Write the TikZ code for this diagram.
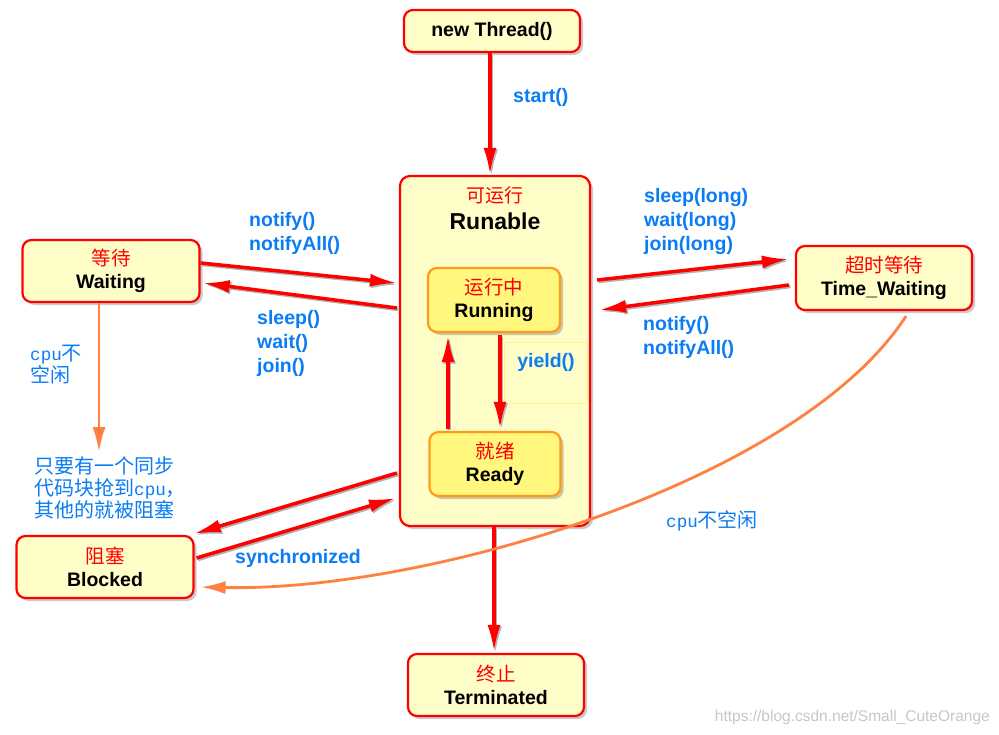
\documentclass[tikz,border=0pt]{standalone}
\usepackage{fontspec}
\setmainfont{Liberation Sans}
\newfontfamily\cjk{Noto Sans CJK SC}
\newfontfamily\monocpu[Scale=0.88]{Liberation Mono}
\usetikzlibrary{calc,shadows,arrows.meta}
\definecolor{boxfill}{HTML}{FFFDC8}
\definecolor{innerfill}{HTML}{FFF77E}
\definecolor{innerdraw}{HTML}{FF9A1A}
\definecolor{lblue}{HTML}{0A7CF5}
\definecolor{orangeln}{HTML}{FF8040}
\definecolor{yieldline}{HTML}{FFF58A}
\newcommand\zh[1]{{\cjk\mdseries\color{red}#1}}
\newcommand\cpu{{\monocpu\mdseries cpu}}
\begin{document}
\begin{tikzpicture}[x=1pt,y=-1pt,
  shadowed/.style={drop shadow={shadow xshift=3pt,shadow yshift=-3pt,opacity=0.35,fill=black!60}},
  state/.style={draw=red, line width=2.2pt, fill=boxfill, rounded corners=9pt,
    minimum width=176pt, minimum height=62pt, align=center, inner sep=0pt,
    font=\bfseries\fontsize{19.5}{23}\selectfont, shadowed},
  inner/.style={state, draw=innerdraw, fill=innerfill, minimum width=132pt, minimum height=64pt},
  lbl/.style={text=lblue, font=\bfseries\fontsize{19.5}{24}\selectfont, align=left, inner sep=0pt},
  cnote/.style={text=lblue, font=\cjk\fontsize{20}{22}\selectfont, align=left, inner sep=0pt},
  redarrow/.style={preaction={draw=black!30, line width=3.5pt, transform canvas={xshift=1.5pt,yshift=-1.5pt}},
    draw=red, line width=3.5pt, -{Latex[length=27pt,width=13pt]}},
  orarrow/.style={draw=orangeln, line width=2.8pt, -{Latex[length=25pt,width=13pt]}}
]
\fill[white] (0,0) rectangle (999,734);
\useasboundingbox (0,0) rectangle (999,734);

% nodes
\node[state, minimum height=42pt] (nt) at (492,31) {new Thread()};
\node[state, minimum width=190pt, minimum height=350pt, rounded corners=10pt] (run) at (495,351) {};
\node[align=center, inner sep=0pt, font=\bfseries\fontsize{23}{27}\selectfont] (runlbl) at (495,208) {\zh{\fontsize{19}{27}\selectfont 可运行}\\Runable};
\node[inner] (running) at (494,300) {\zh{运行中}\\Running};
\node[inner, minimum width=131pt] (ready) at (495,464) {\zh{就绪}\\Ready};
\node[draw=yieldline, line width=1.2pt, fill=boxfill, minimum width=83pt, minimum height=61pt, inner sep=0pt] (yb) at (546,373) {};
\node[lbl] (yl) at (546,362) {yield()};
\node[state, minimum width=177pt] (wait) at (111,271) {\zh{等待}\\Waiting};
\node[state, minimum height=64pt] (tw) at (884,278) {\zh{超时等待}\\Time\_Waiting};
\node[state, minimum width=177pt] (blk) at (105,567) {\zh{阻塞}\\Blocked};
\node[state] (term) at (496,685) {\zh{终止}\\Terminated};

% labels
\node[lbl, anchor=west] (lstart) at (513,97) {start()};
\node[lbl, anchor=north west] (lnl) at (249,212) {notify()\\notifyAll()};
\node[lbl, anchor=north west] (lsl) at (257,310) {sleep()\\wait()\\join()};
\node[lbl, anchor=north west] (lslr) at (644,188) {sleep(long)\\wait(long)\\join(long)};
\node[lbl, anchor=north west] (lnr) at (643,316) {notify()\\notifyAll()};
\node[lbl, anchor=west] (lsync) at (235,558) {synchronized};
\node[cnote, anchor=north west] (cpu1) at (30,345) {\cpu 不\\空闲};
\node[cnote, anchor=north west] (sync) at (34,456) {只要有一个同步\\代码块抢到\cpu ，\\其他的就被阻塞};
\node[cnote, anchor=west] (cpu2) at (666,521) {\cpu 不空闲};
\node[anchor=east, inner sep=0pt, text=black!22, font=\fontsize{15.5}{18}\selectfont] (wm) at (990,717) {https://blog.csdn.net/Small\_CuteOrange};

% connectors
\draw[redarrow] ($(nt.south)+(-2,0)$) -- ($(nt.south |- run.north)+(-2,0)$);
\draw[redarrow] ($(wait.east)+(0,-8)$) -- ($(run.west)+(-2,-68)$);
\draw[redarrow] ($(run.west)+(-2,-43)$) -- ($(wait.east)+(2,12)$);
\draw[redarrow] ($(run.east)+(6,-71)$) -- ($(tw.west)+(-6,-19)$);
\draw[redarrow] ($(tw.west)+(-6,7)$) -- ($(run.east)+(8,-41)$);
\draw[redarrow] ($(running.south)+(6,2)$) -- ($(ready.north)+(5,-2)$);
\draw[redarrow] ($(ready.north)+(-47,-2)$) -- ($(running.south)+(-46,2)$);
\draw[redarrow] ($(run.west)+(-2,122)$) -- ($(blk.north east)+(-1,-1)$);
\draw[redarrow] ($(blk.east)+(2,-9)$) -- ($(run.west)+(-3,147)$);
\draw[redarrow] ($(run.south)+(-1,0)$) -- ($(run.south |- term.north)+(-1,-1)$);

\coordinate (ws) at ($(wait.south)+(-12,0)$);
\draw[orarrow] (ws) -- ($(ws |- sync.north)+(0,-4)$);
\draw[orarrow] ($(tw.south)+(22,5)$) .. controls (800,480) and (430,592) .. ($(blk.east)+(6,20)$);
\end{tikzpicture}
\end{document}
